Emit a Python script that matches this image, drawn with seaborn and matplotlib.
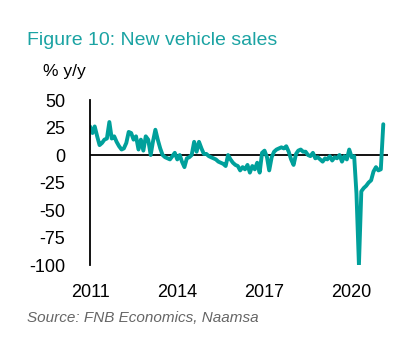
import pandas as pd
import matplotlib
matplotlib.use("Agg")
import matplotlib.pyplot as plt
import matplotlib.dates as mdates
import seaborn as sns

# --- data: monthly % y/y new vehicle sales, Jan 2011 - Feb 2021 ---
y2011 = [26, 20, 26, 17, 9, 11, 14, 15, 30, 15, 17, 12]
y2012 = [8, 5, 6, 11, 21, 20, 14, 17, 5, 14, 4, 17]
y2013 = [14, 0, 12, 23, 14, 6, 0, -2, -3, -4, -1, 2]
y2014 = [-4, 0, -6, -11, -3, -2, 0, 12, 3, 12, 6, 1]
y2015 = [1, -1, -2, -3, -4, -6, -7, -8, -10, 0, -4, -7]
y2016 = [-9, -10, -14, -11, -13, -9, -16, -10, -13, -7, -16, 2]
y2017 = [4, -2, -14, -2, 3, 5, 6, 7, 6, 8, 3, -4]
y2018 = [-9, 1, 4, 5, 3, 3, 0, -1, 2, -3, -2, -4]
y2019 = [-6, -3, -4, -1, -5, -2, -3, 0, -6, -1, -4, 5]
y2020 = [-2, -1, -35, -100, -33, -30, -28, -25, -23, -15, -11, -14]
y2021 = [-13, 28]

values = y2011 + y2012 + y2013 + y2014 + y2015 + y2016 + y2017 + y2018 + y2019 + y2020 + y2021
dates = pd.date_range("2011-01-01", periods=len(values), freq="MS")
df = pd.DataFrame({"date": dates, "yoy": values})

year_ticks = [2011, 2014, 2017, 2020]
y_ticks = [50, 25, 0, -25, -50, -75, -100]

teal = "#00a09b"

# --- plot ---
sns.set_style("white")
plt.rcParams["font.family"] = ["Liberation Sans", "DejaVu Sans"]

fig = plt.figure(figsize=(3.99, 3.51), dpi=100)
ax = fig.add_axes([0.2256, 0.245, 0.746, 0.47])

ax.axhline(0, color="black", lw=1.3, zorder=1)
sns.lineplot(data=df, x="date", y="yoy", ax=ax, color=teal, lw=2.8, zorder=2)

ax.set_xlim(pd.Timestamp("2011-01-01"), pd.Timestamp("2021-03-28"))
ax.set_ylim(-100, 50)
ax.set_yticks(y_ticks)
ax.set_yticklabels([str(t) for t in y_ticks])
ax.set_xticks([pd.Timestamp(f"{y}-01-01") for y in year_ticks])
ax.xaxis.set_major_formatter(mdates.DateFormatter("%Y"))
ax.tick_params(axis="both", length=0, labelsize=13, colors="black")
ax.tick_params(axis="y", pad=18)
ax.tick_params(axis="x", pad=14)
ax.set_xlabel("")
ax.set_ylabel("")

for side in ["top", "right", "bottom"]:
    ax.spines[side].set_visible(False)
ax.spines["left"].set_color("black")
ax.spines["left"].set_linewidth(1.3)

fig.text(0.068, 0.886, "Figure 10: New vehicle sales", color="#1ba3a3", fontsize=14, va="center", ha="left")
fig.text(0.108, 0.795, "% y/y", color="black", fontsize=12.5, va="center", ha="left")
fig.text(0.068, 0.094, "Source: FNB Economics, Naamsa", color="#666666", fontsize=11,
         style="italic", va="center", ha="left")

fig.savefig("out.png", dpi=100)
plt.close(fig)
